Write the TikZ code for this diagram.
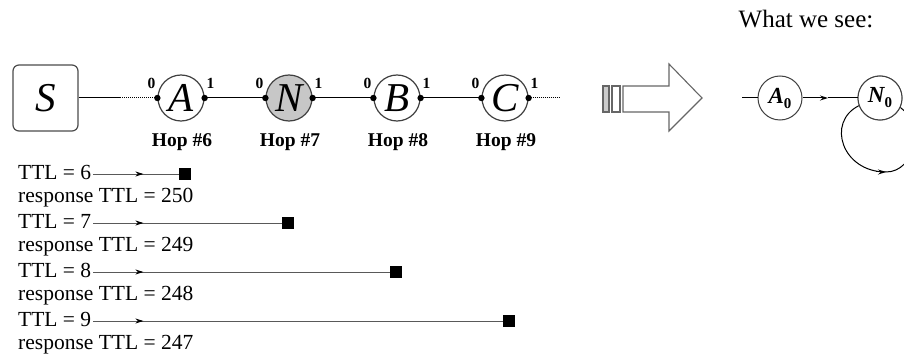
\documentclass[tikz,border=0pt]{standalone}
\usepackage{fontspec}
\setmainfont{Liberation Serif}
\usetikzlibrary{arrows.meta,decorations.markings}
\begin{document}
\begin{tikzpicture}[x=1pt,y=-1pt,
  hop/.style={circle,draw=black!75,line width=1.2pt,fill=white,minimum size=46pt,inner sep=0pt,font=\fontsize{41}{41}\selectfont\itshape},
  port/.style={font=\fontsize{15.5}{15.5}\selectfont\bfseries,inner sep=0pt},
  hoplbl/.style={font=\fontsize{19.5}{19.5}\selectfont\bfseries,inner sep=0pt},
  link/.style={line width=1pt,black},
  ttl/.style={font=\fontsize{21.5}{21.5}\selectfont,inner sep=0pt,anchor=base west},
  sq/.style={fill=black,draw=none,minimum size=12pt,inner sep=0pt},
  probe/.style={black!65,line width=0.9pt,postaction={decorate},decoration={markings,mark=at position 50pt with {\arrow{Stealth[length=8pt,width=5pt,color=black]}}}},
  small/.style={circle,draw=black!75,line width=1pt,fill=white,minimum size=44pt,inner sep=0pt,font=\fontsize{23}{23}\selectfont\bfseries\itshape},
  bigarrow/.style={draw=black!60,line width=1.1pt},
]
\useasboundingbox (0,0) rectangle (904,358);
\clip (0,0) rectangle (904,358);

% source
\node[draw=black!70,line width=1.2pt,rounded corners=6pt,minimum width=65pt,minimum height=66pt,font=\fontsize{41}{41}\selectfont\itshape,inner sep=0pt] (S) at (45.5,98) {S};

% hops
\node[hop] (A) at (181,98) {A};
\node[hop,fill=black!22] (N) at (289,98) {N};
\node[hop] (B) at (397,98) {B};
\node[hop] (C) at (505,98) {C};

\node[hoplbl] (hA) at (182,142) {Hop \#6};
\node[hoplbl] (hN) at (290,142) {Hop \#7};
\node[hoplbl] (hB) at (398,142) {Hop \#8};
\node[hoplbl] (hC) at (506,142) {Hop \#9};

\foreach \n in {A,N,B,C}{
  \node[port] (p0\n) at ([shift={(-6,-15)}]\n.west) {0};
  \node[port] (p1\n) at ([shift={(6,-15)}]\n.east) {1};
}

\coordinate (sd) at (120,98);
\coordinate (cd) at (560,98);
\draw[link] (S.east) -- (sd);
\draw[link,densely dotted] (sd) -- (A.west);
\draw[link] (A.east) -- (N.west);
\draw[link] (N.east) -- (B.west);
\draw[link] (B.east) -- (C.west);
\draw[link,densely dotted] (C.east) -- (cd);

\foreach \n in {A,N,B,C}{
  \fill (\n.west) circle (3.2pt);
  \fill (\n.east) circle (3.2pt);
}

% probes
\node[ttl] (t6) at (18,179) {TTL = 6};
\node[ttl] (r6) at (18,202) {response TTL = 250};
\node[ttl] (t7) at (18,228) {TTL = 7};
\node[ttl] (r7) at (18,251) {response TTL = 249};
\node[ttl] (t8) at (18,277) {TTL = 8};
\node[ttl] (r8) at (18,300) {response TTL = 248};
\node[ttl] (t9) at (18,326) {TTL = 9};
\node[ttl] (r9) at (18,349) {response TTL = 247};

\node[sq] (q6) at (185,174) {};
\node[sq] (q7) at (288,223) {};
\node[sq] (q8) at (396,272) {};
\node[sq] (q9) at (509,321) {};

\draw[probe] ([xshift=2pt]t6.east |- q6) -- (q6.west);
\draw[probe] ([xshift=2pt]t7.east |- q7) -- (q7.west);
\draw[probe] ([xshift=2pt]t8.east |- q8) -- (q8.west);
\draw[probe] ([xshift=2pt]t9.east |- q9) -- (q9.west);

% big hollow arrow
\draw[bigarrow,fill=black!20] (603,86) rectangle (609,112);
\draw[bigarrow] (612,86) rectangle (620,112);
\draw[bigarrow,line join=miter] (623,86) -- (669,86) -- (669,64) -- (702,98) -- (669,131) -- (669,112) -- (623,112) -- cycle;

% what we see
\node[font=\fontsize{25}{25}\selectfont,inner sep=0pt] (wws) at (806,19) {What we see:};

\coordinate (lb) at (886,172);
\node[small] (N0) at (880,98) {};
\draw[line width=1pt] (N0.200) .. controls (826,122) and (842,172) .. (lb);
\draw[line width=1pt] (lb) .. controls (915,172) and (925,125) .. (N0.-25);
\draw[line width=1pt,-{Stealth[length=8pt,width=5pt]}] (876,172) -- (lb);
\node[small] (N0) at (880,98) {N\raisebox{-5pt}{\fontsize{15}{15}\selectfont\upshape 0}};
\node[small] (A0) at (780,98) {A\raisebox{-5pt}{\fontsize{15}{15}\selectfont\upshape 0}};

\coordinate (ain) at (742,98);
\coordinate (amid) at (828,98);
\draw[line width=1pt] (ain) -- (A0.west);
\draw[line width=1pt,-{Stealth[length=8pt,width=5pt]}] (A0.east) -- (amid);
\draw[line width=1pt] (amid) -- (N0.west);
\end{tikzpicture}
\end{document}
